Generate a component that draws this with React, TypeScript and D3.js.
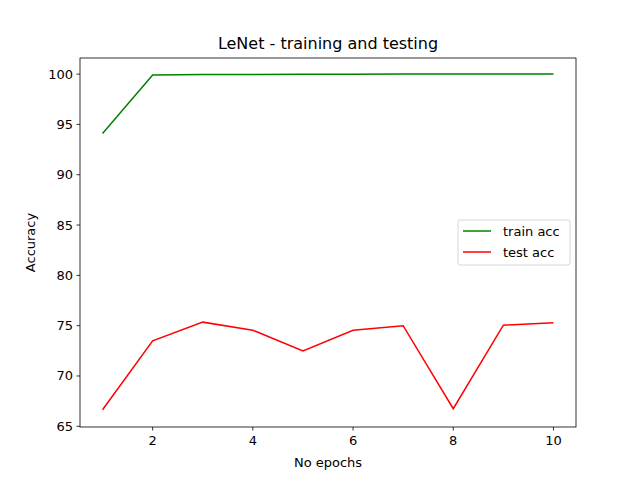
import React from "react";
import * as d3 from "d3";

const epochs = [1, 2, 3, 4, 5, 6, 7, 8, 9, 10];
const trainAcc = [94.1, 99.92, 99.96, 99.97, 99.98, 99.99, 100, 100, 100, 100];
const testAcc = [66.65, 73.5, 75.35, 74.55, 72.5, 74.55, 75.0, 66.75, 75.05, 75.3];
const xTicks = [2, 4, 6, 8, 10];
const yTicks = [65, 70, 75, 80, 85, 90, 95, 100];

export default function App() {
  const L = 80, R = 576, T = 58, B = 427;
  const x = d3.scaleLinear().domain([0.55, 10.45]).range([L, R]);
  const y = d3.scaleLinear().domain([64.93, 101.6]).range([B, T]);
  const line = d3.line<number>().x((_, i) => x(epochs[i])).y(d => y(d));
  const font = "DejaVu Sans";
  return (
    <svg width={640} height={480} style={{ position: "absolute", left: 0, top: 0 }} fontFamily={font}>
      <rect width={640} height={480} fill="white" />
      <path d={line(trainAcc) || ""} fill="none" stroke="green" strokeWidth={1.5} />
      <path d={line(testAcc) || ""} fill="none" stroke="red" strokeWidth={1.5} />
      <rect x={L} y={T} width={R - L} height={B - T} fill="none" stroke="black" strokeWidth={0.8} />
      {xTicks.map(t => (
        <g key={t}>
          <line x1={x(t)} x2={x(t)} y1={B} y2={B + 3.5} stroke="black" strokeWidth={0.8} />
          <text x={x(t)} y={B + 18} fontSize={13} textAnchor="middle">{t}</text>
        </g>
      ))}
      {yTicks.map(t => (
        <g key={t}>
          <line x1={L - 3.5} x2={L} y1={y(t)} y2={y(t)} stroke="black" strokeWidth={0.8} />
          <text x={L - 7} y={y(t) + 4.5} fontSize={13} textAnchor="end">{t}</text>
        </g>
      ))}
      <text x={(L + R) / 2} y={467} fontSize={13} textAnchor="middle">No epochs</text>
      <text transform={`translate(35,${(T + B) / 2}) rotate(-90)`} fontSize={13} textAnchor="middle">Accuracy</text>
      <text x={(L + R) / 2} y={49} fontSize={16} textAnchor="middle">LeNet - training and testing</text>
      <g>
        <rect x={458} y={220} width={112} height={45} rx={2} fill="white" fillOpacity={0.8} stroke="#cccccc" strokeWidth={0.8} />
        <line x1={463} x2={491} y1={231} y2={231} stroke="green" strokeWidth={1.5} />
        <text x={503} y={235.5} fontSize={13}>train acc</text>
        <line x1={463} x2={491} y1={252} y2={252} stroke="red" strokeWidth={1.5} />
        <text x={503} y={256.5} fontSize={13}>test acc</text>
      </g>
    </svg>
  );
}
